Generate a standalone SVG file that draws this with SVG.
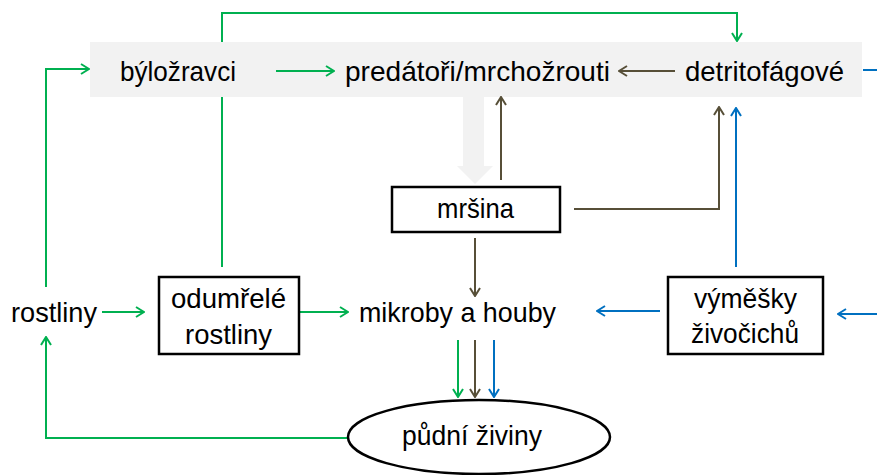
<svg xmlns="http://www.w3.org/2000/svg" width="877" height="475" viewBox="0 0 877 475">
<style>
.t{font-family:"Liberation Sans",Arial,sans-serif;font-size:28px;fill:#000;}
.box{fill:#fff;stroke:#000;stroke-width:2.5;}
.g{fill:none;stroke:#00B050;stroke-width:2;marker-end:url(#ag);}
.b{fill:none;stroke:#574F38;stroke-width:2;marker-end:url(#ab);}
.u{fill:none;stroke:#0070C0;stroke-width:2;marker-end:url(#au);}
.n{fill:none;stroke:#0070C0;stroke-width:2;}
</style>
<defs>
<marker id="ag" viewBox="0 0 10 12" refX="9" refY="6" markerWidth="10" markerHeight="12" markerUnits="userSpaceOnUse" orient="auto"><path d="M1,1 L9,6 L1,11" fill="none" stroke="#00B050" stroke-width="2"/></marker>
<marker id="ab" viewBox="0 0 10 12" refX="9" refY="6" markerWidth="10" markerHeight="12" markerUnits="userSpaceOnUse" orient="auto"><path d="M1,1 L9,6 L1,11" fill="none" stroke="#574F38" stroke-width="2"/></marker>
<marker id="au" viewBox="0 0 10 12" refX="9" refY="6" markerWidth="10" markerHeight="12" markerUnits="userSpaceOnUse" orient="auto"><path d="M1,1 L9,6 L1,11" fill="none" stroke="#0070C0" stroke-width="2"/></marker>
</defs>
<rect width="877" height="475" fill="#fff"/>
<g id="connectors-back">
<polyline class="g" points="222,267 222,13 737,13 737,41"/>
</g>
<g id="band">
<rect x="90" y="42" width="772" height="55" fill="#F2F2F2"/>
<polygon points="463,97 484,97 484,166 493,166 475,184 457,166 463,166" fill="#F2F2F2"/>
</g>
<g id="connectors">
<polyline class="g" points="46,287 46,69 89,69"/>
<line class="g" x1="276" y1="71" x2="334" y2="71"/>
<line class="g" x1="102" y1="312" x2="144" y2="312"/>
<line class="g" x1="299" y1="312" x2="348" y2="312"/>
<line class="g" x1="458" y1="340" x2="458" y2="397"/>
<polyline class="g" points="348,438 46,438 46,337"/>
<line class="b" x1="675" y1="71" x2="619" y2="71"/>
<line class="b" x1="501" y1="180" x2="501" y2="97"/>
<polyline class="b" points="574,209 719,209 719,107"/>
<line class="b" x1="475" y1="238" x2="475" y2="296"/>
<line class="b" x1="475" y1="340" x2="475" y2="397"/>
<line class="n" x1="863" y1="70" x2="877" y2="70"/>
<line class="u" x1="736" y1="267" x2="736" y2="108"/>
<line class="u" x1="660" y1="311" x2="597" y2="311"/>
<line class="u" x1="877" y1="314" x2="838" y2="314"/>
<line class="u" x1="494" y1="340" x2="494" y2="397"/>
</g>
<g id="bylozravci"><text class="t" x="120" y="81" textLength="116" lengthAdjust="spacingAndGlyphs">býložravci</text></g>
<g id="predatori"><text class="t" x="345" y="81" textLength="265" lengthAdjust="spacingAndGlyphs">predátoři/mrchožrouti</text></g>
<g id="detritofagove"><text class="t" x="685" y="81" textLength="159" lengthAdjust="spacingAndGlyphs">detritofágové</text></g>
<g id="mrsina">
<rect class="box" x="392" y="187" width="168" height="45"/>
<text class="t" x="437" y="218" textLength="77" lengthAdjust="spacingAndGlyphs">mršina</text>
</g>
<g id="rostliny"><text class="t" x="11" y="322" textLength="86" lengthAdjust="spacingAndGlyphs">rostliny</text></g>
<g id="odumrele">
<rect class="box" x="159" y="277" width="140" height="77"/>
<text class="t" x="171" y="308" textLength="115" lengthAdjust="spacingAndGlyphs">odumřelé</text>
<text class="t" x="185" y="344" textLength="87" lengthAdjust="spacingAndGlyphs">rostliny</text>
</g>
<g id="mikroby"><text class="t" x="359" y="322" textLength="197" lengthAdjust="spacingAndGlyphs">mikroby a houby</text></g>
<g id="vymesky">
<rect class="box" x="668" y="277" width="155" height="77"/>
<text class="t" x="694" y="308" textLength="103" lengthAdjust="spacingAndGlyphs">výměšky</text>
<text class="t" x="691" y="343" textLength="108" lengthAdjust="spacingAndGlyphs">živočichů</text>
</g>
<g id="pudni">
<ellipse cx="479" cy="437" rx="131" ry="37" fill="#fff" stroke="#000" stroke-width="2.5"/>
<text class="t" x="402" y="445" textLength="140" lengthAdjust="spacingAndGlyphs">půdní živiny</text>
</g>
</svg>
